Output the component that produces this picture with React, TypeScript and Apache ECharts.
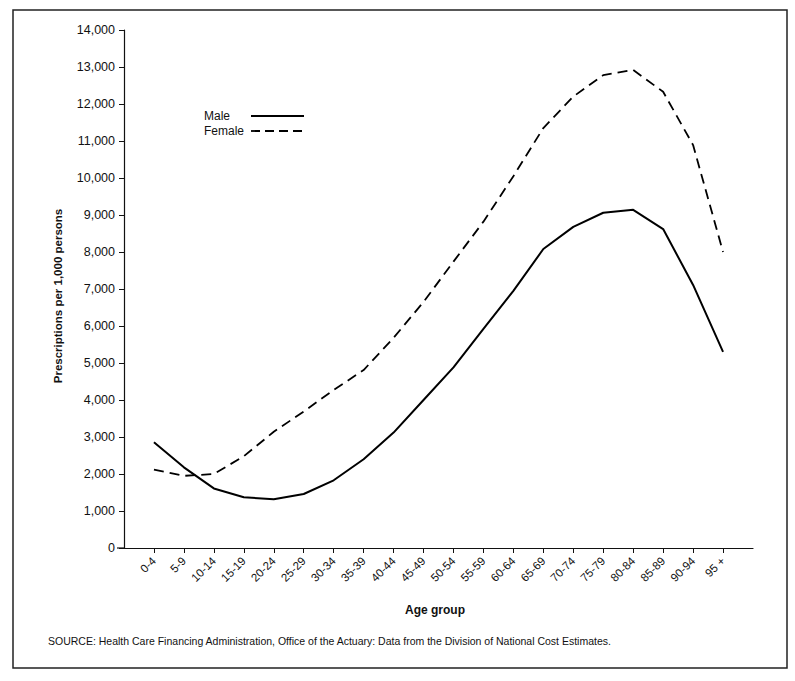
import React, { useEffect, useRef } from "react";
import * as echarts from "echarts";

const ageGroups = [
  "0-4", "5-9", "10-14", "15-19", "20-24", "25-29", "30-34", "35-39", "40-44", "45-49",
  "50-54", "55-59", "60-64", "65-69", "70-74", "75-79", "80-84", "85-89", "90-94", "95 +",
];

const maleValues = [
  2860, 2180, 1610, 1370, 1320, 1460, 1830, 2400, 3120, 4000,
  4880, 5920, 6950, 8080, 8680, 9060, 9140, 8620, 7110, 5300,
];

const femaleValues = [
  2120, 1950, 2000, 2480, 3140, 3690, 4270, 4810, 5680, 6650,
  7740, 8820, 10050, 11350, 12200, 12780, 12920, 12330, 10890, 8000,
];

const yTicks = [0, 1000, 2000, 3000, 4000, 5000, 6000, 7000, 8000, 9000, 10000, 11000, 12000, 13000, 14000];

const FONT = "'Liberation Sans', Arial, Helvetica, sans-serif";

export default function App() {
  const ref = useRef<HTMLDivElement>(null);

  useEffect(() => {
    if (!ref.current) return;
    const chart = echarts.init(ref.current, undefined, { renderer: "svg" });
    const idx = ageGroups.map((_, i) => i);
    chart.setOption({
      animation: false,
      backgroundColor: "#fff",
      grid: { left: 124, right: 42, top: 30, bottom: 133, containLabel: false },
      xAxis: {
        type: "value",
        min: -1,
        max: 20,
        interval: 1,
        splitLine: { show: false },
        axisLine: { show: true, onZero: false, lineStyle: { color: "#111", width: 1.2 } },
        axisTick: { show: true, length: 5, customValues: idx, lineStyle: { color: "#111", width: 1 } },
        axisLabel: {
          customValues: idx,
          rotate: 45,
          margin: 11,
          fontFamily: FONT,
          fontSize: 11.5,
          color: "#111",
          formatter: (v: number) => ageGroups[v] ?? "",
        },
      },
      yAxis: {
        type: "value",
        min: yTicks[0],
        max: yTicks[yTicks.length - 1],
        interval: 1000,
        splitLine: { show: false },
        axisLine: { show: true, onZero: false, lineStyle: { color: "#111", width: 1.2 } },
        axisTick: { show: true, length: 5, lineStyle: { color: "#111", width: 1 } },
        axisLabel: {
          margin: 9,
          fontFamily: FONT,
          fontSize: 12.5,
          color: "#111",
          formatter: (v: number) => v.toLocaleString("en-US"),
        },
      },
      series: [
        {
          name: "Male",
          type: "line",
          showSymbol: false,
          symbol: "none",
          data: maleValues.map((v, i) => [i, v]),
          lineStyle: { color: "#000", width: 2 },
        },
        {
          name: "Female",
          type: "line",
          showSymbol: false,
          symbol: "none",
          data: femaleValues.map((v, i) => [i, v]),
          lineStyle: { color: "#000", width: 1.8, type: [10, 6] },
        },
      ],
      graphic: [
        {
          type: "rect",
          shape: { x: 13, y: 10, width: 774, height: 658 },
          style: { fill: "none", stroke: "#222", lineWidth: 1.5 },
          silent: true,
        },
        {
          type: "line",
          shape: { x1: 117, y1: 548, x2: 124, y2: 548 },
          style: { stroke: "#111", lineWidth: 1.2 },
        },
        {
          type: "text",
          x: 204,
          y: 116,
          style: { text: "Male", fontFamily: FONT, fontSize: 12, fill: "#111", verticalAlign: "middle" },
        },
        {
          type: "text",
          x: 204,
          y: 131,
          style: { text: "Female", fontFamily: FONT, fontSize: 12, fill: "#111", verticalAlign: "middle" },
        },
        {
          type: "line",
          shape: { x1: 251, y1: 116, x2: 304, y2: 116 },
          style: { stroke: "#000", lineWidth: 2 },
        },
        {
          type: "line",
          shape: { x1: 251, y1: 131, x2: 304, y2: 131 },
          style: { stroke: "#000", lineWidth: 1.8, lineDash: [9, 5] },
        },
        {
          type: "text",
          x: 58,
          y: 296,
          rotation: Math.PI / 2,
          style: {
            text: "Prescriptions per 1,000 persons",
            fontFamily: FONT,
            fontSize: 11.5,
            fontWeight: "bold",
            fill: "#111",
            align: "center",
            verticalAlign: "middle",
          },
        },
        {
          type: "text",
          x: 435,
          y: 610,
          style: {
            text: "Age group",
            fontFamily: FONT,
            fontSize: 12,
            fontWeight: "bold",
            fill: "#111",
            align: "center",
            verticalAlign: "middle",
          },
        },
        {
          type: "text",
          x: 48,
          y: 641,
          style: {
            text: "SOURCE: Health Care Financing Administration, Office of the Actuary: Data from the Division of National Cost Estimates.",
            fontFamily: FONT,
            fontSize: 10.5,
            fill: "#111",
            verticalAlign: "middle",
          },
        },
      ],
    });
    return () => chart.dispose();
  }, []);

  return <div ref={ref} style={{ width: 795, height: 681, position: "absolute", left: 0, top: 0 }} />;
}
